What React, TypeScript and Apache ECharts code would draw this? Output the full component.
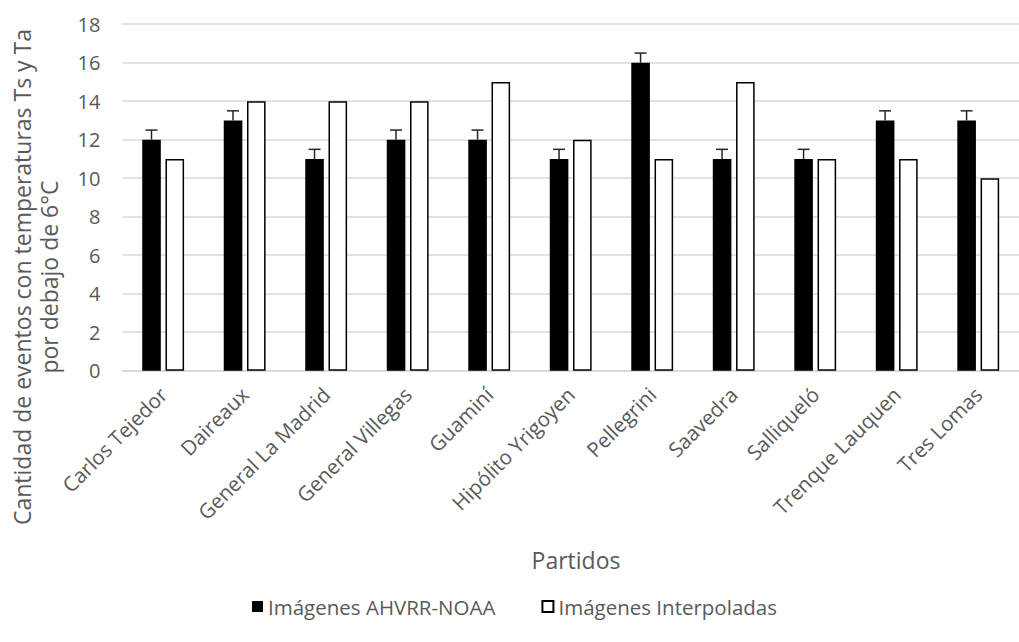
import React, { useEffect, useRef } from "react";
import * as echarts from "echarts";

const categories = [
  "Carlos Tejedor",
  "Daireaux",
  "General La Madrid",
  "General Villegas",
  "Guaminí",
  "Hipólito Yrigoyen",
  "Pellegrini",
  "Saavedra",
  "Salliqueló",
  "Trenque Lauquen",
  "Tres Lomas",
];
const ahvrr = [12, 13, 11, 12, 12, 11, 16, 11, 11, 13, 13];
const interpoladas = [11, 14, 14, 14, 15, 12, 11, 15, 11, 11, 10];
const errores = [0.5, 0.5, 0.5, 0.5, 0.5, 0.5, 0.5, 0.5, 0.5, 0.5, 0.5];
const yTicks = { min: 0, max: 18, interval: 2 };

const serieA = "Imágenes AHVRR-NOAA";
const serieB = "Imágenes Interpoladas";
const yTitle = "Cantidad de eventos con temperaturas Ts y Ta\npor debajo de 6°C";
const xTitle = "Partidos";

const FONT = "'Open Sans', sans-serif";
const TXT = "#595959";
const BAR_W = 18.6;
const BAR_GAP_PX = 4.7;

export default function App() {
  const ref = useRef<HTMLDivElement>(null);
  useEffect(() => {
    if (!ref.current) return;
    const chart = echarts.init(ref.current, undefined, { renderer: "svg" });
    const offset = -(BAR_W + BAR_GAP_PX) / 2;
    chart.setOption({
      animation: false,
      textStyle: { fontFamily: FONT },
      grid: { left: 122.4, right: -11, top: 24.2, bottom: 271.3, containLabel: false },
      legend: {
        data: [serieA, serieB],
        left: 252,
        top: 596,
        padding: 0,
        icon: "rect",
        itemWidth: 11,
        itemHeight: 11,
        itemGap: 46,
        textStyle: { color: TXT, fontSize: 20.5, fontFamily: FONT },
      },
      xAxis: {
        type: "category",
        data: categories,
        axisLine: { lineStyle: { color: "#d9d9d9", width: 1.5 } },
        axisTick: { show: false },
        axisLabel: {
          interval: 0,
          rotate: 45,
          color: TXT,
          fontSize: 20.5,
          fontFamily: FONT,
          margin: 20,
        },
      },
      yAxis: {
        type: "value",
        min: yTicks.min,
        max: yTicks.max,
        interval: yTicks.interval,
        axisLine: { show: false },
        axisTick: { show: false },
        splitLine: { lineStyle: { color: "#d9d9d9", width: 1.5 } },
        axisLabel: { color: TXT, fontSize: 20, fontFamily: FONT, margin: 22 },
      },
      graphic: [
        {
          type: "text",
          x: 35,
          y: 277,
          rotation: Math.PI / 2,
          style: {
            text: yTitle,
            fill: TXT,
            font: `23px ${FONT}`,
            textAlign: "center",
            textVerticalAlign: "middle",
            lineHeight: 27,
          },
        },
        {
          type: "text",
          x: 576,
          y: 560,
          style: {
            text: xTitle,
            fill: TXT,
            font: `23px ${FONT}`,
            textAlign: "center",
            textVerticalAlign: "middle",
          },
        },
      ],
      series: [
        {
          name: serieA,
          type: "bar",
          data: ahvrr,
          barWidth: BAR_W,
          barGap: "25%",
          itemStyle: { color: "#000000" },
          emphasis: { disabled: true },
        },
        {
          name: serieB,
          type: "bar",
          data: interpoladas,
          barWidth: BAR_W,
          itemStyle: { color: "#ffffff", borderColor: "#000000", borderWidth: 1.5 },
          emphasis: { disabled: true },
        },
        {
          name: "err",
          type: "custom",
          z: 10,
          data: ahvrr.map((v, i) => [i, v, errores[i]]),
          encode: { x: 0, y: 1 },
          renderItem: (params: any, api: any) => {
            const i = api.value(0);
            const v = api.value(1);
            const e = api.value(2);
            const base = api.coord([i, v]);
            const top = api.coord([i, v + e]);
            const x = base[0] + offset;
            const st = { stroke: "#262626", lineWidth: 1.5 };
            return {
              type: "group",
              children: [
                { type: "line", shape: { x1: x, y1: base[1], x2: x, y2: top[1] }, style: st },
                { type: "line", shape: { x1: x - 6, y1: top[1], x2: x + 6, y2: top[1] }, style: st },
              ],
            };
          },
        },
      ],
    });
    return () => chart.dispose();
  }, []);
  return (
    <div
      ref={ref}
      style={{ position: "fixed", left: 0, top: 0, width: 1019, height: 642, background: "#fff" }}
    />
  );
}
